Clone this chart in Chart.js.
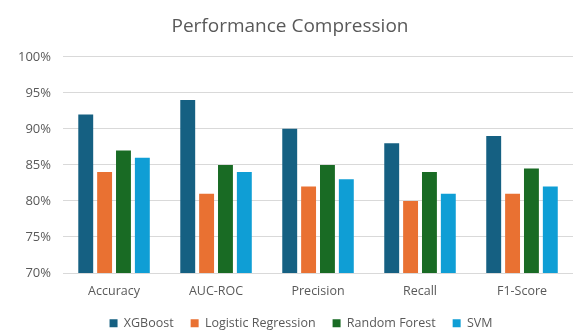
<!DOCTYPE html>
<html>
<head>
<meta charset="utf-8">
<script src="https://cdn.jsdelivr.net/npm/chart.js@4"></script>
<style>
  html, body { margin: 0; padding: 0; background: #ffffff; }
  #wrap { width: 573px; height: 334px; }
</style>
</head>
<body>
<div id="wrap"><canvas id="c" width="573" height="334"></canvas></div>
<script>
// Metrics compared across models (percent)
const metrics = ['Accuracy', 'AUC-ROC', 'Precision', 'Recall', 'F1-Score'];
const xgboost = [92, 94, 90, 88, 89];
const logisticRegression = [84, 81, 82, 80, 81];
const randomForest = [87, 85, 85, 84, 84.5];
const svm = [86, 84, 83, 81, 82];
const yTicks = [70, 75, 80, 85, 90, 95, 100];

const textColor = '#595959';
const fontFamily = "'Open Sans', 'Noto Sans', sans-serif";

// Nudge the legend row a little to the right of the canvas centre
const legendOffset = {
  id: 'legendOffset',
  afterLayout(chart) {
    if (chart.legend) { chart.legend.left += 22; }
  }
};

new Chart(document.getElementById('c'), {
  type: 'bar',
  data: {
    labels: metrics,
    datasets: [
      { label: 'XGBoost', data: xgboost, backgroundColor: '#156082' },
      { label: 'Logistic Regression', data: logisticRegression, backgroundColor: '#E97132' },
      { label: 'Random Forest', data: randomForest, backgroundColor: '#196B24' },
      { label: 'SVM', data: svm, backgroundColor: '#0F9ED5' }
    ]
  },
  plugins: [legendOffset],
  options: {
    responsive: false,
    animation: false,
    devicePixelRatio: 1,
    layout: { padding: { left: 6, right: -1, top: 15, bottom: 0 } },
    datasets: { bar: { categoryPercentage: 0.74, barPercentage: 0.79 } },
    plugins: {
      title: {
        display: true,
        text: 'Performance Compression',
        color: textColor,
        font: { family: fontFamily, size: 19, weight: 'normal' },
        padding: { top: 0, bottom: 19 }
      },
      legend: {
        position: 'bottom',
        maxHeight: 34,
        labels: {
          color: textColor,
          font: { family: fontFamily, size: 12.5 },
          boxWidth: 8,
          boxHeight: 8,
          padding: 17
        }
      },
      tooltip: { enabled: false }
    },
    scales: {
      x: {
        grid: { display: false, drawTicks: false },
        border: { color: '#d9d9d9' },
        ticks: { color: textColor, font: { family: fontFamily, size: 12.5 }, padding: 11 },
        afterFit: (scale) => { scale.height = 27; }
      },
      y: {
        min: 70,
        max: 100,
        afterBuildTicks: (axis) => { axis.ticks = yTicks.map(v => ({ value: v })); },
        grid: { color: '#d9d9d9', drawTicks: false },
        border: { display: false },
        ticks: {
          color: textColor,
          font: { family: fontFamily, size: 13 },
          padding: 12,
          callback: (v) => v + '%'
        }
      }
    }
  }
});
</script>
</body>
</html>
